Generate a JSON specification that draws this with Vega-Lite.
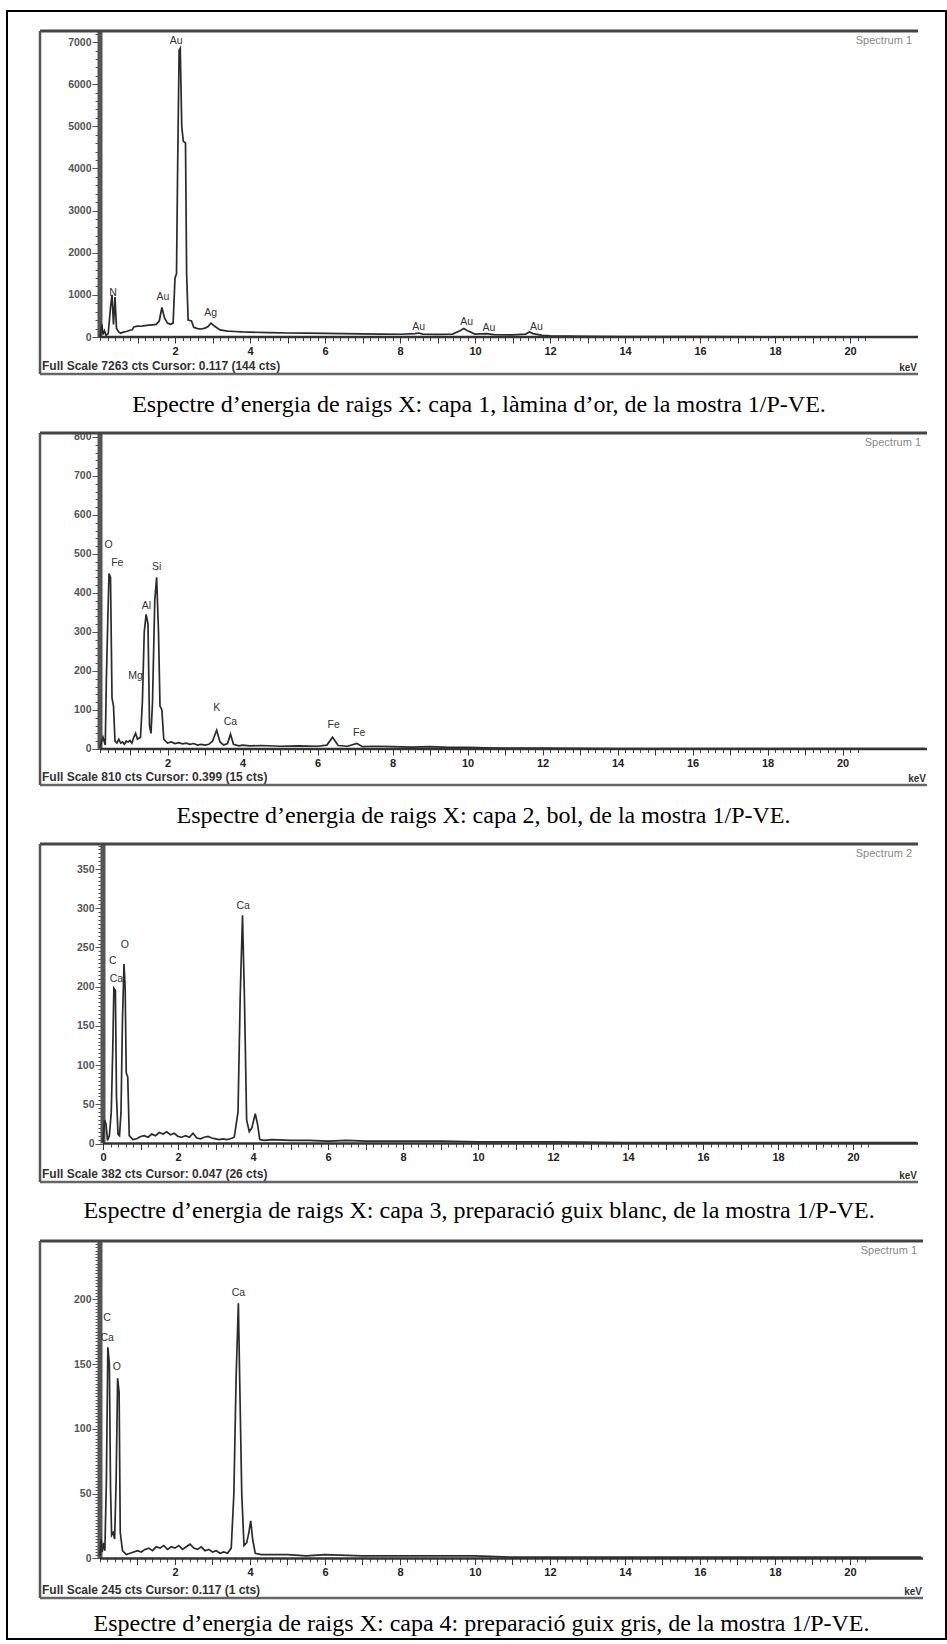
{
  "$schema": "https://vega.github.io/schema/vega-lite/v6.json",
  "background": "white",
  "padding": {"left": 6, "top": 10, "right": 0, "bottom": 0},
  "bounds": "flush",
  "spacing": 59,
  "config": {
    "view": {"stroke": null},
    "axis": {"grid": false, "domain": false, "labelOverlap": false, "labelBound": false, "labelFlush": false, "labelFont": "Liberation Sans", "tickColor": "#444", "tickWidth": 1},
    "text": {"font": "Liberation Sans"}
  },
  "datasets": {
    "s1": [{"e":0,"c":0},{"e":0.05,"c":300},{"e":0.08,"c":60},{"e":0.12,"c":150},{"e":0.16,"c":40},{"e":0.22,"c":80},{"e":0.28,"c":700},{"e":0.32,"c":1000},{"e":0.36,"c":300},{"e":0.4,"c":950},{"e":0.44,"c":200},{"e":0.5,"c":120},{"e":0.55,"c":90},{"e":0.6,"c":110},{"e":0.7,"c":130},{"e":0.8,"c":160},{"e":0.86,"c":170},{"e":0.9,"c":240},{"e":1.0,"c":260},{"e":1.1,"c":255},{"e":1.2,"c":270},{"e":1.3,"c":280},{"e":1.4,"c":290},{"e":1.5,"c":300},{"e":1.58,"c":380},{"e":1.65,"c":700},{"e":1.72,"c":450},{"e":1.8,"c":330},{"e":1.88,"c":300},{"e":1.95,"c":330},{"e":2.0,"c":1400},{"e":2.04,"c":1500},{"e":2.07,"c":4000},{"e":2.11,"c":6800},{"e":2.14,"c":6850},{"e":2.18,"c":5000},{"e":2.22,"c":4650},{"e":2.28,"c":4600},{"e":2.31,"c":1500},{"e":2.35,"c":400},{"e":2.44,"c":380},{"e":2.5,"c":230},{"e":2.6,"c":200},{"e":2.7,"c":190},{"e":2.8,"c":210},{"e":2.88,"c":250},{"e":2.96,"c":330},{"e":3.05,"c":260},{"e":3.2,"c":170},{"e":3.4,"c":140},{"e":3.6,"c":130},{"e":3.8,"c":120},{"e":4.0,"c":115},{"e":4.5,"c":105},{"e":5.0,"c":95},{"e":5.5,"c":90},{"e":6.0,"c":85},{"e":6.5,"c":80},{"e":7.0,"c":75},{"e":7.5,"c":70},{"e":8.0,"c":65},{"e":8.4,"c":80},{"e":8.5,"c":95},{"e":8.6,"c":70},{"e":9.0,"c":60},{"e":9.4,"c":70},{"e":9.6,"c":150},{"e":9.7,"c":200},{"e":9.8,"c":150},{"e":10.0,"c":70},{"e":10.3,"c":80},{"e":10.5,"c":55},{"e":11.0,"c":50},{"e":11.35,"c":70},{"e":11.45,"c":120},{"e":11.55,"c":80},{"e":11.8,"c":40},{"e":12.0,"c":30},{"e":12.5,"c":20},{"e":13,"c":15},{"e":14,"c":10},{"e":16,"c":8},{"e":18,"c":6},{"e":20,"c":5},{"e":21.8,"c":4}],
    "l1": [{"e":0.35,"c":930,"t":"N"},{"e":1.68,"c":830,"t":"Au"},{"e":2.03,"c":6910,"t":"Au"},{"e":2.95,"c":450,"t":"Ag"},{"e":8.5,"c":126,"t":"Au"},{"e":9.78,"c":245,"t":"Au"},{"e":10.37,"c":100,"t":"Au"},{"e":11.64,"c":126,"t":"Au"}],
    "s2": [{"e":0.2,"c":5},{"e":0.28,"c":30},{"e":0.34,"c":10},{"e":0.37,"c":180},{"e":0.4,"c":300},{"e":0.44,"c":450},{"e":0.48,"c":440},{"e":0.52,"c":130},{"e":0.56,"c":110},{"e":0.6,"c":20},{"e":0.65,"c":15},{"e":0.7,"c":25},{"e":0.75,"c":15},{"e":0.8,"c":18},{"e":0.85,"c":12},{"e":0.9,"c":20},{"e":0.95,"c":18},{"e":1.0,"c":22},{"e":1.05,"c":15},{"e":1.1,"c":30},{"e":1.15,"c":40},{"e":1.2,"c":25},{"e":1.28,"c":30},{"e":1.33,"c":120},{"e":1.38,"c":300},{"e":1.43,"c":345},{"e":1.48,"c":320},{"e":1.52,"c":60},{"e":1.56,"c":40},{"e":1.6,"c":120},{"e":1.66,"c":380},{"e":1.71,"c":440},{"e":1.76,"c":300},{"e":1.8,"c":110},{"e":1.85,"c":100},{"e":1.9,"c":25},{"e":2.0,"c":15},{"e":2.1,"c":18},{"e":2.2,"c":14},{"e":2.3,"c":16},{"e":2.4,"c":13},{"e":2.5,"c":15},{"e":2.6,"c":12},{"e":2.7,"c":14},{"e":2.8,"c":10},{"e":2.9,"c":12},{"e":3.0,"c":10},{"e":3.1,"c":12},{"e":3.2,"c":20},{"e":3.31,"c":48},{"e":3.4,"c":18},{"e":3.5,"c":10},{"e":3.6,"c":14},{"e":3.68,"c":38},{"e":3.76,"c":12},{"e":3.9,"c":8},{"e":4.0,"c":10},{"e":4.2,"c":8},{"e":4.5,"c":9},{"e":5.0,"c":7},{"e":5.5,"c":8},{"e":6.0,"c":7},{"e":6.25,"c":10},{"e":6.4,"c":30},{"e":6.55,"c":9},{"e":6.8,"c":7},{"e":7.05,"c":14},{"e":7.2,"c":6},{"e":7.5,"c":7},{"e":8.0,"c":6},{"e":8.5,"c":5},{"e":9.0,"c":6},{"e":9.5,"c":4},{"e":10,"c":4},{"e":10.5,"c":3},{"e":11,"c":2},{"e":12,"c":2},{"e":14,"c":1},{"e":22.2,"c":1}],
    "l2": [{"e":0.43,"c":511,"t":"O"},{"e":0.66,"c":465,"t":"Fe"},{"e":1.15,"c":175,"t":"Mg"},{"e":1.44,"c":354,"t":"Al"},{"e":1.71,"c":453,"t":"Si"},{"e":3.31,"c":92,"t":"K"},{"e":3.68,"c":56,"t":"Ca"},{"e":6.43,"c":49,"t":"Fe"},{"e":7.11,"c":28,"t":"Fe"}],
    "s3": [{"e":0,"c":2},{"e":0.04,"c":30},{"e":0.08,"c":25},{"e":0.12,"c":4},{"e":0.17,"c":10},{"e":0.22,"c":40},{"e":0.26,"c":120},{"e":0.29,"c":198},{"e":0.33,"c":195},{"e":0.36,"c":60},{"e":0.4,"c":12},{"e":0.44,"c":10},{"e":0.48,"c":40},{"e":0.52,"c":160},{"e":0.56,"c":229},{"e":0.59,"c":200},{"e":0.62,"c":90},{"e":0.66,"c":85},{"e":0.7,"c":10},{"e":0.8,"c":5},{"e":0.9,"c":6},{"e":1.0,"c":9},{"e":1.1,"c":10},{"e":1.2,"c":8},{"e":1.3,"c":12},{"e":1.4,"c":10},{"e":1.5,"c":14},{"e":1.6,"c":12},{"e":1.7,"c":15},{"e":1.8,"c":11},{"e":1.9,"c":13},{"e":2.0,"c":9},{"e":2.1,"c":8},{"e":2.2,"c":10},{"e":2.3,"c":8},{"e":2.4,"c":13},{"e":2.5,"c":7},{"e":2.6,"c":6},{"e":2.7,"c":8},{"e":2.8,"c":9},{"e":2.9,"c":7},{"e":3.0,"c":6},{"e":3.1,"c":5},{"e":3.2,"c":6},{"e":3.3,"c":5},{"e":3.4,"c":6},{"e":3.5,"c":8},{"e":3.6,"c":40},{"e":3.66,"c":190},{"e":3.72,"c":291},{"e":3.77,"c":190},{"e":3.83,"c":30},{"e":3.9,"c":15},{"e":3.97,"c":20},{"e":4.06,"c":38},{"e":4.12,"c":25},{"e":4.18,"c":5},{"e":4.3,"c":4},{"e":4.5,"c":5},{"e":5,"c":4},{"e":5.5,"c":4},{"e":6,"c":3},{"e":6.5,"c":4},{"e":7,"c":3},{"e":8,"c":3},{"e":9,"c":3},{"e":10,"c":2},{"e":11,"c":2},{"e":12,"c":2},{"e":14,"c":1},{"e":21.7,"c":1}],
    "l3": [{"e":0.26,"c":227,"t":"C"},{"e":0.36,"c":203,"t":"Ca"},{"e":0.58,"c":247,"t":"O"},{"e":3.74,"c":296,"t":"Ca"}],
    "s4": [{"e":0,"c":2},{"e":0.03,"c":15},{"e":0.06,"c":5},{"e":0.1,"c":12},{"e":0.13,"c":6},{"e":0.17,"c":60},{"e":0.21,"c":163},{"e":0.25,"c":150},{"e":0.28,"c":55},{"e":0.31,"c":18},{"e":0.35,"c":20},{"e":0.39,"c":15},{"e":0.43,"c":60},{"e":0.47,"c":139},{"e":0.51,"c":128},{"e":0.54,"c":20},{"e":0.6,"c":6},{"e":0.7,"c":3},{"e":0.8,"c":4},{"e":0.9,"c":5},{"e":1.0,"c":6},{"e":1.1,"c":5},{"e":1.2,"c":7},{"e":1.3,"c":8},{"e":1.4,"c":6},{"e":1.5,"c":9},{"e":1.6,"c":8},{"e":1.7,"c":10},{"e":1.8,"c":7},{"e":1.9,"c":9},{"e":2.0,"c":8},{"e":2.1,"c":10},{"e":2.2,"c":7},{"e":2.3,"c":9},{"e":2.4,"c":11},{"e":2.5,"c":8},{"e":2.6,"c":7},{"e":2.7,"c":9},{"e":2.8,"c":6},{"e":2.9,"c":7},{"e":3.0,"c":5},{"e":3.1,"c":6},{"e":3.2,"c":4},{"e":3.3,"c":5},{"e":3.4,"c":4},{"e":3.5,"c":8},{"e":3.57,"c":50},{"e":3.63,"c":140},{"e":3.69,"c":197},{"e":3.73,"c":130},{"e":3.78,"c":50},{"e":3.84,"c":10},{"e":3.91,"c":12},{"e":3.97,"c":20},{"e":4.02,"c":29},{"e":4.07,"c":15},{"e":4.14,"c":4},{"e":4.3,"c":3},{"e":4.5,"c":3},{"e":5.0,"c":3},{"e":5.5,"c":2},{"e":6.0,"c":3},{"e":7.0,"c":2},{"e":8.0,"c":2},{"e":9.0,"c":2},{"e":10,"c":2},{"e":11,"c":1},{"e":12,"c":1},{"e":13,"c":1},{"e":21.9,"c":1}],
    "l4": [{"e":0.19,"c":182,"t":"C"},{"e":0.19,"c":166,"t":"Ca"},{"e":0.45,"c":144,"t":"O"},{"e":3.69,"c":201,"t":"Ca"}],
    "one": [{}]
  },
  "vconcat": [
    {
      "width": 878, "height": 343,
      "title": {"text": "Espectre d’energia de raigs X: capa 1, làmina d’or, de la mostra 1/P-VE.", "orient": "bottom", "anchor": "middle", "frame": "group", "offset": 18, "font": "Liberation Serif", "fontSize": 24, "fontWeight": "normal", "color": "#000"},
      "resolve": {"axis": {"x": "independent", "y": "independent"}},
      "layer": [
        {"data": {"name": "one"}, "mark": {"type": "rule", "color": "#555", "strokeWidth": 5},
         "encoding": {"x": {"datum": 0, "type": "quantitative", "scale": {"domain": [-1.6, 21.813], "nice": false, "zero": false}, "axis": null}, "y": {"datum": 0, "type": "quantitative", "scale": {"domain": [-878.2, 7263], "nice": false, "zero": false}, "axis": null}, "y2": {"datum": 7263}}},
        {"data": {"name": "s1"}, "mark": {"type": "line", "color": "#2a2a2a", "strokeWidth": 1.7},
         "encoding": {
           "x": {"field": "e", "type": "quantitative", "scale": {"domain": [-1.6, 21.813], "nice": false, "zero": false}, "axis": {"orient": "bottom", "offset": -37, "title": null, "labels": false, "tickSize": 3.5, "values": [0,0.2,0.4,0.6,0.8,1,1.2,1.4,1.6,1.8,2,2.2,2.4,2.6,2.8,3,3.2,3.4,3.6,3.8,4,4.2,4.4,4.6,4.8,5,5.2,5.4,5.6,5.8,6,6.2,6.4,6.6,6.8,7,7.2,7.4,7.6,7.8,8,8.2,8.4,8.6,8.8,9,9.2,9.4,9.6,9.8,10,10.2,10.4,10.6,10.8,11,11.2,11.4,11.6,11.8,12,12.2,12.4,12.6,12.8,13,13.2,13.4,13.6,13.8,14,14.2,14.4,14.6,14.8,15,15.2,15.4,15.6,15.8,16,16.2,16.4,16.6,16.8,17,17.2,17.4,17.6,17.8,18,18.2,18.4,18.6,18.8,19,19.2,19.4,19.6,19.8,20,20.2,20.4]}},
           "y": {"field": "c", "type": "quantitative", "scale": {"domain": [-878.2, 7263], "nice": false, "zero": false}, "axis": {"orient": "left", "offset": -60, "title": null, "labels": false, "tickSize": 5, "tickColor": "#555", "values": [0,200,400,600,800,1000,1200,1400,1600,1800,2000,2200,2400,2600,2800,3000,3200,3400,3600,3800,4000,4200,4400,4600,4800,5000,5200,5400,5600,5800,6000,6200,6400,6600,6800,7000,7200]}}
         }},
        {"data": {"name": "l1"}, "mark": {"type": "text", "align": "center", "baseline": "bottom", "fontSize": 10.5, "color": "#333"},
         "encoding": {
           "x": {"field": "e", "type": "quantitative", "scale": {"domain": [-1.6, 21.813], "nice": false, "zero": false}, "axis": {"orient": "bottom", "offset": -37, "title": null, "tickSize": 6, "tickColor": "#333", "labelPadding": 2, "labelFontSize": 11, "labelFontWeight": "bold", "labelColor": "#222", "values": [1,2,3,4,5,6,7,8,9,10,11,12,13,14,15,16,17,18,19,20], "labelExpr": "datum.value % 2 === 0 ? '' + datum.value : ''"}},
           "y": {"field": "c", "type": "quantitative", "scale": {"domain": [-878.2, 7263], "nice": false, "zero": false}, "axis": {"orient": "left", "offset": -60, "title": null, "tickSize": 8, "tickColor": "#555", "labelPadding": 1, "labelFontSize": 10.5, "labelFontWeight": "bold", "labelColor": "#555", "values": [0,1000,2000,3000,4000,5000,6000,7000], "labelExpr": "'' + datum.value"}},
           "text": {"field": "t"}
         }},
        {"data": {"name": "one"}, "mark": {"type": "rule", "color": "#333", "strokeWidth": 2.5},
         "encoding": {"x": {"datum": 0, "type": "quantitative", "axis": null}, "x2": {"datum": 21.813}, "y": {"datum": 0, "type": "quantitative", "axis": null}}},
        {"data": {"name": "one"}, "mark": {"type": "rule", "color": "#444", "strokeWidth": 3},
         "encoding": {"x": {"datum": -1.6, "type": "quantitative", "axis": null}, "x2": {"datum": 21.813}, "y": {"datum": 7263, "type": "quantitative", "axis": null}}},
        {"data": {"name": "one"}, "mark": {"type": "rule", "color": "#666", "strokeWidth": 2.5},
         "encoding": {"x": {"datum": -1.6, "type": "quantitative", "axis": null}, "x2": {"datum": 21.813}, "y": {"datum": -878.2, "type": "quantitative", "axis": null}}},
        {"data": {"name": "one"}, "mark": {"type": "rule", "color": "#555", "strokeWidth": 2.5},
         "encoding": {"x": {"datum": -1.6, "type": "quantitative", "axis": null}, "y": {"datum": -878.2, "type": "quantitative", "axis": null}, "y2": {"datum": 7263}}},
        {"data": {"name": "one"}, "mark": {"type": "text", "align": "right", "baseline": "top", "dx": -6, "dy": 4, "fontSize": 11, "color": "#888"},
         "encoding": {"x": {"datum": 21.813, "type": "quantitative", "axis": null}, "y": {"datum": 7263, "type": "quantitative", "axis": null}, "text": {"value": "Spectrum 1"}}},
        {"data": {"name": "one"}, "mark": {"type": "text", "align": "left", "baseline": "bottom", "dx": 2, "dy": -1, "fontSize": 12, "fontWeight": "bold", "color": "#333"},
         "encoding": {"x": {"datum": -1.6, "type": "quantitative", "axis": null}, "y": {"datum": -878.2, "type": "quantitative", "axis": null}, "text": {"value": "Full Scale 7263 cts Cursor: 0.117  (144 cts)"}}},
        {"data": {"name": "one"}, "mark": {"type": "text", "align": "right", "baseline": "bottom", "dx": -1, "dy": -1, "fontSize": 10, "fontWeight": "bold", "color": "#333"},
         "encoding": {"x": {"datum": 21.813, "type": "quantitative", "axis": null}, "y": {"datum": -878.2, "type": "quantitative", "axis": null}, "text": {"value": "keV"}}}
      ]
    },
    {
      "width": 887, "height": 352,
      "title": {"text": "Espectre d’energia de raigs X: capa 2, bol, de la mostra 1/P-VE.", "orient": "bottom", "anchor": "middle", "frame": "group", "offset": 18, "font": "Liberation Serif", "fontSize": 24, "fontWeight": "normal", "color": "#000"},
      "resolve": {"axis": {"x": "independent", "y": "independent"}},
      "layer": [
        {"data": {"name": "one"}, "mark": {"type": "rule", "color": "#555", "strokeWidth": 5},
         "encoding": {"x": {"datum": 0.2, "type": "quantitative", "scale": {"domain": [-1.4, 22.253], "nice": false, "zero": false}, "axis": null}, "y": {"datum": 0, "type": "quantitative", "scale": {"domain": [-92.3, 810], "nice": false, "zero": false}, "axis": null}, "y2": {"datum": 810}}},
        {"data": {"name": "s2"}, "mark": {"type": "line", "color": "#2a2a2a", "strokeWidth": 1.7},
         "encoding": {
           "x": {"field": "e", "type": "quantitative", "scale": {"domain": [-1.4, 22.253], "nice": false, "zero": false}, "axis": {"orient": "bottom", "offset": -36, "title": null, "labels": false, "tickSize": 3.5, "values": [0.2,0.4,0.6,0.8,1,1.2,1.4,1.6,1.8,2,2.2,2.4,2.6,2.8,3,3.2,3.4,3.6,3.8,4,4.2,4.4,4.6,4.8,5,5.2,5.4,5.6,5.8,6,6.2,6.4,6.6,6.8,7,7.2,7.4,7.6,7.8,8,8.2,8.4,8.6,8.8,9,9.2,9.4,9.6,9.8,10,10.2,10.4,10.6,10.8,11,11.2,11.4,11.6,11.8,12,12.2,12.4,12.6,12.8,13,13.2,13.4,13.6,13.8,14,14.2,14.4,14.6,14.8,15,15.2,15.4,15.6,15.8,16,16.2,16.4,16.6,16.8,17,17.2,17.4,17.6,17.8,18,18.2,18.4,18.6,18.8,19,19.2,19.4,19.6,19.8,20,20.2,20.4]}},
           "y": {"field": "c", "type": "quantitative", "scale": {"domain": [-92.3, 810], "nice": false, "zero": false}, "axis": {"orient": "left", "offset": -60, "title": null, "labels": false, "tickSize": 5, "tickColor": "#555", "values": [0,20,40,60,80,100,120,140,160,180,200,220,240,260,280,300,320,340,360,380,400,420,440,460,480,500,520,540,560,580,600,620,640,660,680,700,720,740,760,780,800]}}
         }},
        {"data": {"name": "l2"}, "mark": {"type": "text", "align": "center", "baseline": "bottom", "fontSize": 10.5, "color": "#333"},
         "encoding": {
           "x": {"field": "e", "type": "quantitative", "scale": {"domain": [-1.4, 22.253], "nice": false, "zero": false}, "axis": {"orient": "bottom", "offset": -36, "title": null, "tickSize": 6, "tickColor": "#333", "labelPadding": 2, "labelFontSize": 11, "labelFontWeight": "bold", "labelColor": "#222", "values": [1,2,3,4,5,6,7,8,9,10,11,12,13,14,15,16,17,18,19,20], "labelExpr": "datum.value % 2 === 0 ? '' + datum.value : ''"}},
           "y": {"field": "c", "type": "quantitative", "scale": {"domain": [-92.3, 810], "nice": false, "zero": false}, "axis": {"orient": "left", "offset": -60, "title": null, "tickSize": 8, "tickColor": "#555", "labelPadding": 1, "labelFontSize": 10.5, "labelFontWeight": "bold", "labelColor": "#555", "values": [0,100,200,300,400,500,600,700,800], "labelExpr": "'' + datum.value"}},
           "text": {"field": "t"}
         }},
        {"data": {"name": "one"}, "mark": {"type": "rule", "color": "#333", "strokeWidth": 2.5},
         "encoding": {"x": {"datum": 0.2, "type": "quantitative", "axis": null}, "x2": {"datum": 22.253}, "y": {"datum": 0, "type": "quantitative", "axis": null}}},
        {"data": {"name": "one"}, "mark": {"type": "rule", "color": "#444", "strokeWidth": 3},
         "encoding": {"x": {"datum": -1.4, "type": "quantitative", "axis": null}, "x2": {"datum": 22.253}, "y": {"datum": 810, "type": "quantitative", "axis": null}}},
        {"data": {"name": "one"}, "mark": {"type": "rule", "color": "#666", "strokeWidth": 2.5},
         "encoding": {"x": {"datum": -1.4, "type": "quantitative", "axis": null}, "x2": {"datum": 22.253}, "y": {"datum": -92.3, "type": "quantitative", "axis": null}}},
        {"data": {"name": "one"}, "mark": {"type": "rule", "color": "#555", "strokeWidth": 2.5},
         "encoding": {"x": {"datum": -1.4, "type": "quantitative", "axis": null}, "y": {"datum": -92.3, "type": "quantitative", "axis": null}, "y2": {"datum": 810}}},
        {"data": {"name": "one"}, "mark": {"type": "text", "align": "right", "baseline": "top", "dx": -6, "dy": 4, "fontSize": 11, "color": "#888"},
         "encoding": {"x": {"datum": 22.253, "type": "quantitative", "axis": null}, "y": {"datum": 810, "type": "quantitative", "axis": null}, "text": {"value": "Spectrum 1"}}},
        {"data": {"name": "one"}, "mark": {"type": "text", "align": "left", "baseline": "bottom", "dx": 2, "dy": -1, "fontSize": 12, "fontWeight": "bold", "color": "#333"},
         "encoding": {"x": {"datum": -1.4, "type": "quantitative", "axis": null}, "y": {"datum": -92.3, "type": "quantitative", "axis": null}, "text": {"value": "Full Scale 810 cts Cursor: 0.399  (15 cts)"}}},
        {"data": {"name": "one"}, "mark": {"type": "text", "align": "right", "baseline": "bottom", "dx": -1, "dy": -1, "fontSize": 10, "fontWeight": "bold", "color": "#333"},
         "encoding": {"x": {"datum": 22.253, "type": "quantitative", "axis": null}, "y": {"datum": -92.3, "type": "quantitative", "axis": null}, "text": {"value": "keV"}}}
      ]
    },
    {
      "width": 878, "height": 338,
      "title": {"text": "Espectre d’energia de raigs X: capa 3, preparació guix blanc, de la mostra 1/P-VE.", "orient": "bottom", "anchor": "middle", "frame": "group", "offset": 16, "font": "Liberation Serif", "fontSize": 24, "fontWeight": "normal", "color": "#000"},
      "resolve": {"axis": {"x": "independent", "y": "independent"}},
      "layer": [
        {"data": {"name": "one"}, "mark": {"type": "rule", "color": "#555", "strokeWidth": 5},
         "encoding": {"x": {"datum": 0, "type": "quantitative", "scale": {"domain": [-1.68, 21.733], "nice": false, "zero": false}, "axis": null}, "y": {"datum": 0, "type": "quantitative", "scale": {"domain": [-49.1, 382], "nice": false, "zero": false}, "axis": null}, "y2": {"datum": 382}}},
        {"data": {"name": "s3"}, "mark": {"type": "line", "color": "#2a2a2a", "strokeWidth": 1.7},
         "encoding": {
           "x": {"field": "e", "type": "quantitative", "scale": {"domain": [-1.68, 21.733], "nice": false, "zero": false}, "axis": {"orient": "bottom", "offset": -38.5, "title": null, "labels": false, "tickSize": 3.5, "values": [0,0.2,0.4,0.6,0.8,1,1.2,1.4,1.6,1.8,2,2.2,2.4,2.6,2.8,3,3.2,3.4,3.6,3.8,4,4.2,4.4,4.6,4.8,5,5.2,5.4,5.6,5.8,6,6.2,6.4,6.6,6.8,7,7.2,7.4,7.6,7.8,8,8.2,8.4,8.6,8.8,9,9.2,9.4,9.6,9.8,10,10.2,10.4,10.6,10.8,11,11.2,11.4,11.6,11.8,12,12.2,12.4,12.6,12.8,13,13.2,13.4,13.6,13.8,14,14.2,14.4,14.6,14.8,15,15.2,15.4,15.6,15.8,16,16.2,16.4,16.6,16.8,17,17.2,17.4,17.6,17.8,18,18.2,18.4,18.6,18.8,19,19.2,19.4,19.6,19.8,20,20.2,20.4]}},
           "y": {"field": "c", "type": "quantitative", "scale": {"domain": [-49.1, 382], "nice": false, "zero": false}, "axis": {"orient": "left", "offset": -63, "title": null, "labels": false, "tickSize": 5, "tickColor": "#555", "values": [0,5,10,15,20,25,30,35,40,45,50,55,60,65,70,75,80,85,90,95,100,105,110,115,120,125,130,135,140,145,150,155,160,165,170,175,180,185,190,195,200,205,210,215,220,225,230,235,240,245,250,255,260,265,270,275,280,285,290,295,300,305,310,315,320,325,330,335,340,345,350,355,360,365,370,375,380]}}
         }},
        {"data": {"name": "l3"}, "mark": {"type": "text", "align": "center", "baseline": "bottom", "fontSize": 10.5, "color": "#333"},
         "encoding": {
           "x": {"field": "e", "type": "quantitative", "scale": {"domain": [-1.68, 21.733], "nice": false, "zero": false}, "axis": {"orient": "bottom", "offset": -38.5, "title": null, "tickSize": 6, "tickColor": "#333", "labelPadding": 2, "labelFontSize": 11, "labelFontWeight": "bold", "labelColor": "#222", "values": [0,1,2,3,4,5,6,7,8,9,10,11,12,13,14,15,16,17,18,19,20], "labelExpr": "datum.value % 2 === 0 ? '' + datum.value : ''"}},
           "y": {"field": "c", "type": "quantitative", "scale": {"domain": [-49.1, 382], "nice": false, "zero": false}, "axis": {"orient": "left", "offset": -63, "title": null, "tickSize": 8, "tickColor": "#555", "labelPadding": 1, "labelFontSize": 10.5, "labelFontWeight": "bold", "labelColor": "#555", "values": [0,50,100,150,200,250,300,350], "labelExpr": "'' + datum.value"}},
           "text": {"field": "t"}
         }},
        {"data": {"name": "one"}, "mark": {"type": "rule", "color": "#333", "strokeWidth": 2.5},
         "encoding": {"x": {"datum": 0, "type": "quantitative", "axis": null}, "x2": {"datum": 21.733}, "y": {"datum": 0, "type": "quantitative", "axis": null}}},
        {"data": {"name": "one"}, "mark": {"type": "rule", "color": "#444", "strokeWidth": 3},
         "encoding": {"x": {"datum": -1.68, "type": "quantitative", "axis": null}, "x2": {"datum": 21.733}, "y": {"datum": 382, "type": "quantitative", "axis": null}}},
        {"data": {"name": "one"}, "mark": {"type": "rule", "color": "#666", "strokeWidth": 2.5},
         "encoding": {"x": {"datum": -1.68, "type": "quantitative", "axis": null}, "x2": {"datum": 21.733}, "y": {"datum": -49.1, "type": "quantitative", "axis": null}}},
        {"data": {"name": "one"}, "mark": {"type": "rule", "color": "#555", "strokeWidth": 2.5},
         "encoding": {"x": {"datum": -1.68, "type": "quantitative", "axis": null}, "y": {"datum": -49.1, "type": "quantitative", "axis": null}, "y2": {"datum": 382}}},
        {"data": {"name": "one"}, "mark": {"type": "text", "align": "right", "baseline": "top", "dx": -6, "dy": 4, "fontSize": 11, "color": "#888"},
         "encoding": {"x": {"datum": 21.733, "type": "quantitative", "axis": null}, "y": {"datum": 382, "type": "quantitative", "axis": null}, "text": {"value": "Spectrum 2"}}},
        {"data": {"name": "one"}, "mark": {"type": "text", "align": "left", "baseline": "bottom", "dx": 2, "dy": -1, "fontSize": 12, "fontWeight": "bold", "color": "#333"},
         "encoding": {"x": {"datum": -1.68, "type": "quantitative", "axis": null}, "y": {"datum": -49.1, "type": "quantitative", "axis": null}, "text": {"value": "Full Scale 382 cts Cursor: 0.047  (26 cts)"}}},
        {"data": {"name": "one"}, "mark": {"type": "text", "align": "right", "baseline": "bottom", "dx": -1, "dy": -1, "fontSize": 10, "fontWeight": "bold", "color": "#333"},
         "encoding": {"x": {"datum": 21.733, "type": "quantitative", "axis": null}, "y": {"datum": -49.1, "type": "quantitative", "axis": null}, "text": {"value": "keV"}}}
      ]
    },
    {
      "width": 883, "height": 357,
      "title": {"text": "Espectre d’energia de raigs X: capa 4: preparació guix gris, de la mostra 1/P-VE.", "orient": "bottom", "anchor": "middle", "frame": "group", "offset": -28, "font": "Liberation Serif", "fontSize": 24, "fontWeight": "normal", "color": "#000"},
      "resolve": {"axis": {"x": "independent", "y": "independent"}},
      "layer": [
        {"data": {"name": "one"}, "mark": {"type": "rect", "filled": false, "color": "#000", "strokeWidth": 2},
         "encoding": {"x": {"datum": -2.48, "type": "quantitative", "scale": {"domain": [-1.6, 21.947], "nice": false, "zero": false}, "axis": null}, "x2": {"datum": 22.56}, "y": {"datum": 1194.2, "type": "quantitative", "scale": {"domain": [-30.5, 245], "nice": false, "zero": false}, "axis": null}, "y2": {"datum": -62.1}}},
        {"data": {"name": "one"}, "mark": {"type": "rule", "color": "#555", "strokeWidth": 5},
         "encoding": {"x": {"datum": 0, "type": "quantitative", "axis": null}, "y": {"datum": 0, "type": "quantitative", "axis": null}, "y2": {"datum": 245}}},
        {"data": {"name": "s4"}, "mark": {"type": "line", "color": "#2a2a2a", "strokeWidth": 1.7},
         "encoding": {
           "x": {"field": "e", "type": "quantitative", "scale": {"domain": [-1.6, 21.947], "nice": false, "zero": false}, "axis": {"orient": "bottom", "offset": -39.5, "title": null, "labels": false, "tickSize": 3.5, "values": [0,0.2,0.4,0.6,0.8,1,1.2,1.4,1.6,1.8,2,2.2,2.4,2.6,2.8,3,3.2,3.4,3.6,3.8,4,4.2,4.4,4.6,4.8,5,5.2,5.4,5.6,5.8,6,6.2,6.4,6.6,6.8,7,7.2,7.4,7.6,7.8,8,8.2,8.4,8.6,8.8,9,9.2,9.4,9.6,9.8,10,10.2,10.4,10.6,10.8,11,11.2,11.4,11.6,11.8,12,12.2,12.4,12.6,12.8,13,13.2,13.4,13.6,13.8,14,14.2,14.4,14.6,14.8,15,15.2,15.4,15.6,15.8,16,16.2,16.4,16.6,16.8,17,17.2,17.4,17.6,17.8,18,18.2,18.4,18.6,18.8,19,19.2,19.4,19.6,19.8,20,20.2,20.4]}},
           "y": {"field": "c", "type": "quantitative", "scale": {"domain": [-30.5, 245], "nice": false, "zero": false}, "axis": {"orient": "left", "offset": -60, "title": null, "labels": false, "tickSize": 5, "tickColor": "#555", "values": [0,2.5,5,7.5,10,12.5,15,17.5,20,22.5,25,27.5,30,32.5,35,37.5,40,42.5,45,47.5,50,52.5,55,57.5,60,62.5,65,67.5,70,72.5,75,77.5,80,82.5,85,87.5,90,92.5,95,97.5,100,102.5,105,107.5,110,112.5,115,117.5,120,122.5,125,127.5,130,132.5,135,137.5,140,142.5,145,147.5,150,152.5,155,157.5,160,162.5,165,167.5,170,172.5,175,177.5,180,182.5,185,187.5,190,192.5,195,197.5,200,202.5,205,207.5,210,212.5,215,217.5,220,222.5,225,227.5,230,232.5,235,237.5,240,242.5,245]}}
         }},
        {"data": {"name": "l4"}, "mark": {"type": "text", "align": "center", "baseline": "bottom", "fontSize": 10.5, "color": "#333"},
         "encoding": {
           "x": {"field": "e", "type": "quantitative", "scale": {"domain": [-1.6, 21.947], "nice": false, "zero": false}, "axis": {"orient": "bottom", "offset": -39.5, "title": null, "tickSize": 6, "tickColor": "#333", "labelPadding": 2, "labelFontSize": 11, "labelFontWeight": "bold", "labelColor": "#222", "values": [1,2,3,4,5,6,7,8,9,10,11,12,13,14,15,16,17,18,19,20], "labelExpr": "datum.value % 2 === 0 ? '' + datum.value : ''"}},
           "y": {"field": "c", "type": "quantitative", "scale": {"domain": [-30.5, 245], "nice": false, "zero": false}, "axis": {"orient": "left", "offset": -60, "title": null, "tickSize": 8, "tickColor": "#555", "labelPadding": 1, "labelFontSize": 10.5, "labelFontWeight": "bold", "labelColor": "#555", "values": [0,50,100,150,200], "labelExpr": "'' + datum.value"}},
           "text": {"field": "t"}
         }},
        {"data": {"name": "one"}, "mark": {"type": "rule", "color": "#333", "strokeWidth": 2.5},
         "encoding": {"x": {"datum": 0, "type": "quantitative", "axis": null}, "x2": {"datum": 21.947}, "y": {"datum": 0, "type": "quantitative", "axis": null}}},
        {"data": {"name": "one"}, "mark": {"type": "rule", "color": "#444", "strokeWidth": 3},
         "encoding": {"x": {"datum": -1.6, "type": "quantitative", "axis": null}, "x2": {"datum": 21.947}, "y": {"datum": 245, "type": "quantitative", "axis": null}}},
        {"data": {"name": "one"}, "mark": {"type": "rule", "color": "#666", "strokeWidth": 2.5},
         "encoding": {"x": {"datum": -1.6, "type": "quantitative", "axis": null}, "x2": {"datum": 21.947}, "y": {"datum": -30.5, "type": "quantitative", "axis": null}}},
        {"data": {"name": "one"}, "mark": {"type": "rule", "color": "#555", "strokeWidth": 2.5},
         "encoding": {"x": {"datum": -1.6, "type": "quantitative", "axis": null}, "y": {"datum": -30.5, "type": "quantitative", "axis": null}, "y2": {"datum": 245}}},
        {"data": {"name": "one"}, "mark": {"type": "text", "align": "right", "baseline": "top", "dx": -6, "dy": 4, "fontSize": 11, "color": "#888"},
         "encoding": {"x": {"datum": 21.947, "type": "quantitative", "axis": null}, "y": {"datum": 245, "type": "quantitative", "axis": null}, "text": {"value": "Spectrum 1"}}},
        {"data": {"name": "one"}, "mark": {"type": "text", "align": "left", "baseline": "bottom", "dx": 2, "dy": -1, "fontSize": 12, "fontWeight": "bold", "color": "#333"},
         "encoding": {"x": {"datum": -1.6, "type": "quantitative", "axis": null}, "y": {"datum": -30.5, "type": "quantitative", "axis": null}, "text": {"value": "Full Scale 245 cts Cursor: 0.117  (1 cts)"}}},
        {"data": {"name": "one"}, "mark": {"type": "text", "align": "right", "baseline": "bottom", "dx": -1, "dy": -1, "fontSize": 10, "fontWeight": "bold", "color": "#333"},
         "encoding": {"x": {"datum": 21.947, "type": "quantitative", "axis": null}, "y": {"datum": -30.5, "type": "quantitative", "axis": null}, "text": {"value": "keV"}}}
      ]
    }
  ]
}
